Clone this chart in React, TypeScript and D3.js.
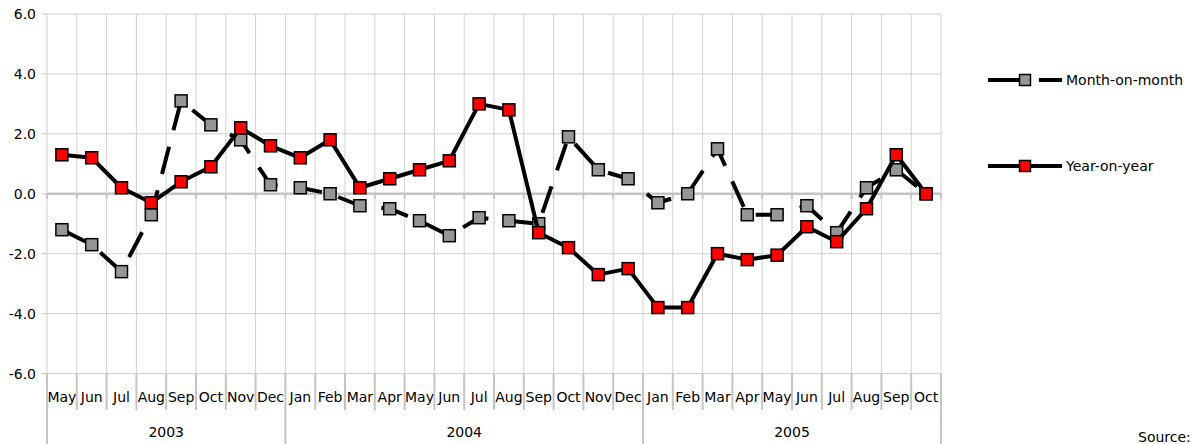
import React from "react";
import * as d3 from "d3";

const WIDTH = 1194;
const HEIGHT = 444;
const MARGIN = { top: 14, right: 253, bottom: 70.5, left: 47 };

const months = [
  "May", "Jun", "Jul", "Aug", "Sep", "Oct", "Nov", "Dec",
  "Jan", "Feb", "Mar", "Apr", "May", "Jun", "Jul", "Aug", "Sep", "Oct", "Nov", "Dec",
  "Jan", "Feb", "Mar", "Apr", "May", "Jun", "Jul", "Aug", "Sep", "Oct",
];
const years = [
  { label: "2003", start: 0, count: 8 },
  { label: "2004", start: 8, count: 12 },
  { label: "2005", start: 20, count: 10 },
];

const monthOnMonth = [
  -1.2, -1.7, -2.6, -0.7, 3.1, 2.3, 1.8, 0.3,
  0.2, 0.0, -0.4, -0.5, -0.9, -1.4, -0.8, -0.9, -1.0, 1.9, 0.8, 0.5,
  -0.3, 0.0, 1.5, -0.7, -0.7, -0.4, -1.3, 0.2, 0.8, 0.0,
];
const yearOnYear = [
  1.3, 1.2, 0.2, -0.3, 0.4, 0.9, 2.2, 1.6,
  1.2, 1.8, 0.2, 0.5, 0.8, 1.1, 3.0, 2.8, -1.3, -1.8, -2.7, -2.5,
  -3.8, -3.8, -2.0, -2.2, -2.05, -1.1, -1.6, -0.5, 1.3, 0.0,
];
const yTicks = [-6, -4, -2, 0, 2, 4, 6];

const FONT = "'DejaVu Sans', Tahoma, sans-serif";
const GRID = "#d0d0d0";
const AXIS = "#c4c4c4";
const MARK = 12;

const series = [
  { name: "Month-on-month", values: monthOnMonth, fill: "#969696", dash: "28 17", legendDash: "43 8 30", legendY: 80 },
  { name: "Year-on-year", values: yearOnYear, fill: "#ff0000", dash: undefined, legendDash: undefined, legendY: 166 },
];

export default function App() {
  const boundsWidth = WIDTH - MARGIN.left - MARGIN.right;
  const boundsHeight = HEIGHT - MARGIN.top - MARGIN.bottom;
  const x0 = MARGIN.left;
  const y1 = MARGIN.top + boundsHeight;

  const xScale = d3
    .scaleBand<number>()
    .domain(months.map((_, i) => i))
    .range([x0, x0 + boundsWidth])
    .padding(0);
  const bw = xScale.bandwidth();
  const cx = (i: number) => (xScale(i) as number) + bw / 2;
  const edge = (i: number) => x0 + i * bw;

  const yScale = d3.scaleLinear().domain([-6, 6]).range([y1, MARGIN.top]);

  const line = d3
    .line<number>()
    .x((_, i) => cx(i))
    .y((d) => yScale(d));

  const bounds = d3.range(months.length + 1);
  const yearEdges = new Set([0, 8, 20, 30]);

  return (
    <svg
      width={WIDTH}
      height={HEIGHT}
      style={{ position: "absolute", left: 0, top: 0, background: "#fff" }}
      fontFamily={FONT}
    >
      {/* horizontal grid + y labels */}
      {yTicks.map((t) => (
        <g key={"y" + t}>
          <line x1={x0} x2={x0 + boundsWidth} y1={yScale(t)} y2={yScale(t)} stroke={GRID} strokeWidth={1} />
          <line x1={x0 - 5} x2={x0} y1={yScale(t)} y2={yScale(t)} stroke={AXIS} strokeWidth={1} />
          <text x={36} y={yScale(t)} textAnchor="end" dominantBaseline="central" fontSize={14} fill="#000">
            {t.toFixed(1)}
          </text>
        </g>
      ))}

      {/* vertical grid */}
      {bounds.map((i) => (
        <line key={"v" + i} x1={edge(i)} x2={edge(i)} y1={MARGIN.top} y2={y1} stroke={GRID} strokeWidth={1} />
      ))}

      {/* zero axis */}
      <line x1={x0} x2={x0 + boundsWidth} y1={yScale(0)} y2={yScale(0)} stroke={AXIS} strokeWidth={2.5} />
      {bounds.map((i) => (
        <line key={"zt" + i} x1={edge(i)} x2={edge(i)} y1={yScale(0)} y2={yScale(0) + 5} stroke={AXIS} strokeWidth={2} />
      ))}

      {/* category axis */}
      {bounds.map((i) => (
        <line
          key={"c" + i}
          x1={edge(i)}
          x2={edge(i)}
          y1={y1}
          y2={yearEdges.has(i) ? HEIGHT : 410}
          stroke={AXIS}
          strokeWidth={2}
        />
      ))}
      {months.map((m, i) => (
        <text key={"m" + i} x={cx(i)} y={397} textAnchor="middle" dominantBaseline="central" fontSize={14} fill="#000">
          {m}
        </text>
      ))}
      {years.map((yr) => (
        <text
          key={yr.label}
          x={edge(yr.start) + (yr.count * bw) / 2}
          y={432}
          textAnchor="middle"
          dominantBaseline="central"
          fontSize={14}
          fill="#000"
        >
          {yr.label}
        </text>
      ))}

      {/* series */}
      {series.map((s) => (
        <g key={s.name}>
          <path
            d={line(s.values) || ""}
            fill="none"
            stroke="#000"
            strokeWidth={4}
            strokeDasharray={s.dash}
            strokeLinejoin="round"
          />
          {s.values.map((v, i) => (
            <rect
              key={i}
              x={cx(i) - MARK / 2}
              y={yScale(v) - MARK / 2}
              width={MARK}
              height={MARK}
              fill={s.fill}
              stroke="#000"
              strokeWidth={1.5}
            />
          ))}
        </g>
      ))}

      {/* legend */}
      {series.map((s) => (
        <g key={"lg" + s.name}>
          <line
            x1={988}
            x2={1062}
            y1={s.legendY}
            y2={s.legendY}
            stroke="#000"
            strokeWidth={4}
            strokeDasharray={s.legendDash}
          />
          <rect
            x={1025 - 5.5}
            y={s.legendY - 5.5}
            width={11}
            height={11}
            fill={s.fill}
            stroke="#000"
            strokeWidth={1.5}
          />
          <text x={1066} y={s.legendY} dominantBaseline="central" fontSize={14} fill="#000">
            {s.name}
          </text>
        </g>
      ))}

      <text x={1138} y={437} dominantBaseline="central" fontSize={14} fill="#000">
        Source:
      </text>
    </svg>
  );
}
